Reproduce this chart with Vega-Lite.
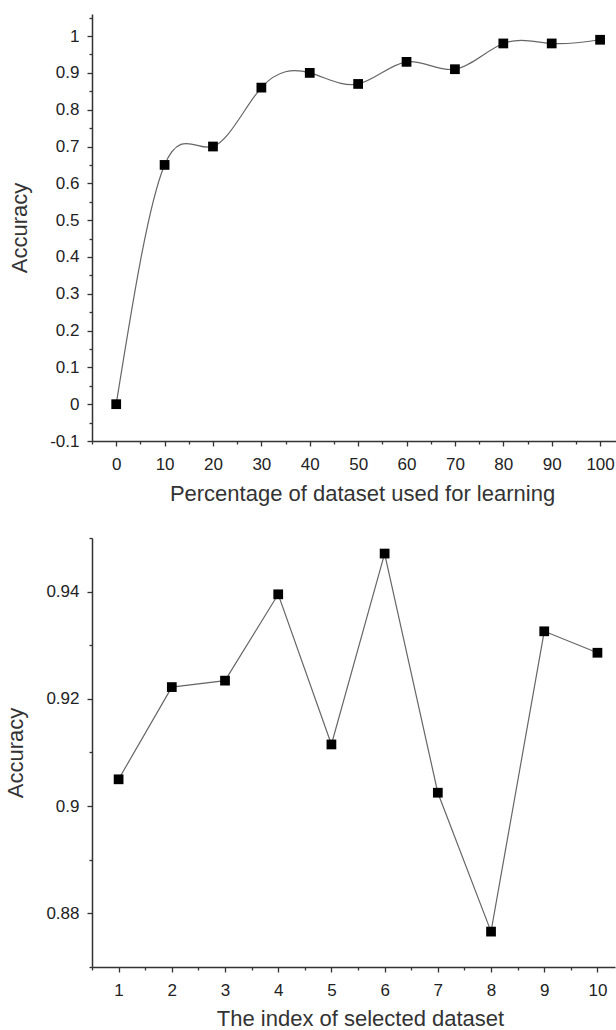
{
  "$schema": "https://vega.github.io/schema/vega-lite/v6.json",
  "padding": {"left": 4, "top": 8, "right": 0, "bottom": 0},
  "background": "white",
  "datasets": {
    "learning": [
      {"pct": 0, "acc": 0.0},
      {"pct": 10, "acc": 0.65},
      {"pct": 20, "acc": 0.70},
      {"pct": 30, "acc": 0.86},
      {"pct": 40, "acc": 0.90},
      {"pct": 50, "acc": 0.87},
      {"pct": 60, "acc": 0.93},
      {"pct": 70, "acc": 0.91},
      {"pct": 80, "acc": 0.98},
      {"pct": 90, "acc": 0.98},
      {"pct": 100, "acc": 0.99}
    ],
    "selected": [
      {"idx": 1, "acc": 0.9050},
      {"idx": 2, "acc": 0.9222},
      {"idx": 3, "acc": 0.9234},
      {"idx": 4, "acc": 0.9395},
      {"idx": 5, "acc": 0.9115},
      {"idx": 6, "acc": 0.9471},
      {"idx": 7, "acc": 0.9025},
      {"idx": 8, "acc": 0.8766},
      {"idx": 9, "acc": 0.9326},
      {"idx": 10, "acc": 0.9286}
    ]
  },
  "concat": [
    {
      "width": 526,
      "height": 427,
      "data": {"name": "learning"},
      "encoding": {
        "x": {
          "field": "pct", "type": "quantitative",
          "scale": {"domain": [-5, 103.7], "nice": false, "zero": false},
          "axis": {
            "title": "Percentage of dataset used for learning",
            "titleX": 270,
            "values": [-5, 0, 5, 10, 15, 20, 25, 30, 35, 40, 45, 50, 55, 60, 65, 70, 75, 80, 85, 90, 95, 100],
            "labelExpr": "datum.value % 10 === 0 ? '' + datum.value : ''",
            "tickSize": {"condition": {"test": "datum.value % 10 === 0", "value": 5}, "value": 3},
            "labelPadding": 10,
            "titlePadding": 11
          }
        },
        "y": {
          "field": "acc", "type": "quantitative",
          "scale": {"domain": [-0.1, 1.06], "nice": false, "zero": false},
          "axis": {
            "title": "Accuracy",
            "values": [-0.1, -0.05, 0, 0.05, 0.1, 0.15, 0.2, 0.25, 0.3, 0.35, 0.4, 0.45, 0.5, 0.55, 0.6, 0.65, 0.7, 0.75, 0.8, 0.85, 0.9, 0.95, 1, 1.05],
            "labelExpr": "abs(datum.value*10 - round(datum.value*10)) < 1e-6 ? '' + round(datum.value*10)/10 : ''",
            "tickSize": {"condition": {"test": "abs(datum.value*10 - round(datum.value*10)) < 1e-6", "value": 5}, "value": 3},
            "labelPadding": 8,
            "titlePadding": 18
          }
        }
      },
      "layer": [
        {"mark": {"type": "line", "interpolate": "natural", "color": "#666666", "strokeWidth": 1.2}},
        {"mark": {"type": "point", "shape": "square", "filled": true, "color": "#000000", "size": 95, "opacity": 1}}
      ]
    },
    {
      "width": 523,
      "height": 429,
      "data": {"name": "selected"},
      "encoding": {
        "x": {
          "field": "idx", "type": "quantitative",
          "scale": {"domain": [0.5, 10.33], "nice": false, "zero": false},
          "axis": {
            "title": "The index of selected dataset",
            "titleX": 268,
            "values": [0.5, 1, 1.5, 2, 2.5, 3, 3.5, 4, 4.5, 5, 5.5, 6, 6.5, 7, 7.5, 8, 8.5, 9, 9.5, 10],
            "labelExpr": "datum.value % 1 === 0 ? '' + datum.value : ''",
            "tickSize": {"condition": {"test": "datum.value % 1 === 0", "value": 5}, "value": 3},
            "labelPadding": 10,
            "titlePadding": 10
          }
        },
        "y": {
          "field": "acc", "type": "quantitative",
          "scale": {"domain": [0.87, 0.95], "nice": false, "zero": false},
          "axis": {
            "title": "Accuracy",
            "values": [0.87, 0.88, 0.89, 0.9, 0.91, 0.92, 0.93, 0.94, 0.95],
            "labelExpr": "round(datum.value*100) % 2 === 0 ? '' + round(datum.value*100)/100 : ''",
            "tickSize": {"condition": {"test": "round(datum.value*100) % 2 === 0", "value": 5}, "value": 3},
            "labelPadding": 8,
            "titlePadding": 18
          }
        }
      },
      "layer": [
        {"mark": {"type": "line", "color": "#666666", "strokeWidth": 1.2}},
        {"mark": {"type": "point", "shape": "square", "filled": true, "color": "#000000", "size": 95, "opacity": 1}}
      ]
    }
  ],
  "columns": 1,
  "align": "none",
  "spacing": 25,
  "config": {
    "view": {"stroke": null},
    "axis": {
      "grid": false,
      "domainColor": "#333333",
      "domainWidth": 1.5,
      "tickColor": "#333333",
      "tickWidth": 1.3,
      "labelFont": "Liberation Sans",
      "labelFontSize": 17,
      "labelColor": "#222222",
      "labelFlush": false,
      "labelOverlap": false,
      "labelBound": false,
      "titleFont": "Liberation Sans",
      "titleFontSize": 22,
      "titleFontWeight": "normal",
      "titleColor": "#333333"
    }
  }
}
